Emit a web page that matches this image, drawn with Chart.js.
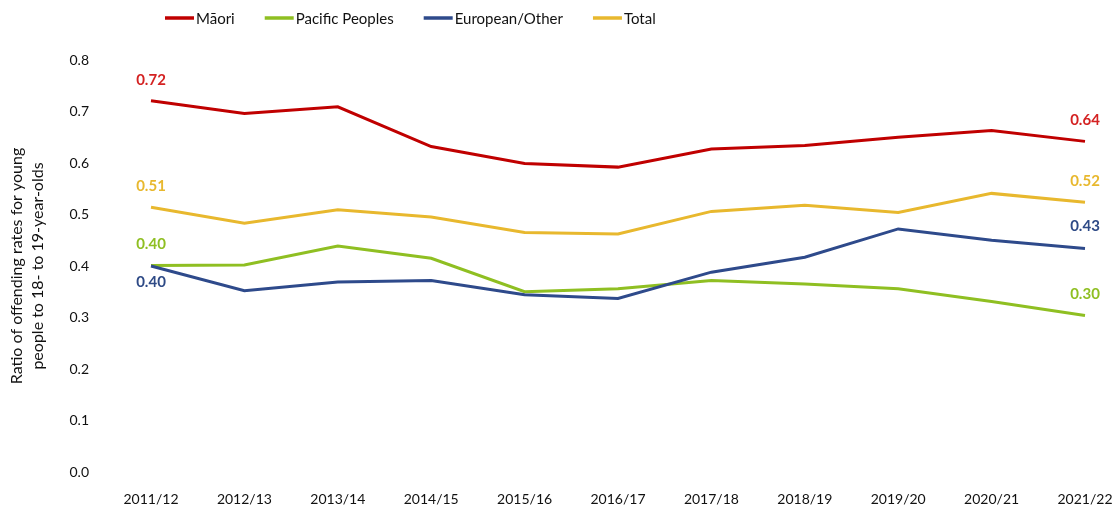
<!DOCTYPE html>
<html>
<head>
<meta charset="utf-8">
<script src="https://cdn.jsdelivr.net/npm/chart.js@4.4.1/dist/chart.umd.min.js"></script>
<style>
  html, body { margin: 0; padding: 0; background: #ffffff; }
  #wrap { width: 1118px; height: 508px; }
</style>
</head>
<body>
<div id="wrap"><canvas id="c" width="1118" height="508"></canvas></div>
<script>
const categories = ['2011/12','2012/13','2013/14','2014/15','2015/16','2016/17','2017/18','2018/19','2019/20','2020/21','2021/22'];
const maori    = [0.721, 0.696, 0.709, 0.632, 0.599, 0.592, 0.627, 0.634, 0.650, 0.663, 0.642];
const pacific  = [0.401, 0.402, 0.439, 0.415, 0.350, 0.356, 0.372, 0.365, 0.356, 0.331, 0.304];
const european = [0.400, 0.352, 0.369, 0.372, 0.344, 0.337, 0.388, 0.417, 0.472, 0.450, 0.434];
const total    = [0.514, 0.483, 0.509, 0.495, 0.465, 0.462, 0.506, 0.518, 0.504, 0.541, 0.524];
const seriesNames = ['Māori', 'Pacific Peoples', 'European/Other', 'Total'];
const yTicks = [0, 0.1, 0.2, 0.3, 0.4, 0.5, 0.6, 0.7, 0.8];
const yTitle = ['Ratio of offending rates for young', 'people to 18- to 19-year-olds'];

const lineColors  = ['#C00000', '#8FBF22', '#2E4A8B', '#E8B82E'];
const labelColors = ['#D42222', '#8FBF22', '#2E4A86', '#E8B82E'];
// end-label placement: [first, last] vertical offsets in px (negative = above)
const labelOffsets = [[-21, -21], [-21, -21], [16, -22], [-21, -21]];

const FONT = 'Lato, "Open Sans", sans-serif';
const TEXT = '#111111';

const endLabels = {
  id: 'endLabels',
  afterDatasetsDraw(chart) {
    const ctx = chart.ctx;
    ctx.save();
    ctx.font = 'bold 15px ' + FONT;
    ctx.textAlign = 'center';
    ctx.textBaseline = 'middle';
    chart.data.datasets.forEach((ds, di) => {
      const meta = chart.getDatasetMeta(di);
      const idxs = [0, ds.data.length - 1];
      idxs.forEach((idx, k) => {
        const pt = meta.data[idx];
        ctx.fillStyle = labelColors[di];
        ctx.fillText(ds.data[idx].toFixed(2), pt.x, pt.y + labelOffsets[di][k]);
      });
    });
    ctx.restore();
  }
};

const customLegend = {
  id: 'customLegend',
  afterDraw(chart) {
    const ctx = chart.ctx;
    ctx.save();
    ctx.font = '15px ' + FONT;
    ctx.textBaseline = 'middle';
    ctx.textAlign = 'left';
    let x = 165;
    const y = 18;
    chart.data.datasets.forEach((ds) => {
      ctx.strokeStyle = ds.borderColor;
      ctx.lineWidth = 3.5;
      ctx.beginPath();
      ctx.moveTo(x, y);
      ctx.lineTo(x + 29, y);
      ctx.stroke();
      ctx.fillStyle = TEXT;
      ctx.fillText(ds.label, x + 31, y + 1);
      x += 31 + ctx.measureText(ds.label).width + 30;
    });
    ctx.restore();
  }
};

const datasets = [maori, pacific, european, total].map((arr, i) => ({
  label: seriesNames[i],
  data: arr,
  borderColor: lineColors[i],
  backgroundColor: lineColors[i],
  borderWidth: 3,
  pointRadius: 0,
  pointHoverRadius: 0,
  tension: 0,
  fill: false,
  order: 4 - i
}));

new Chart(document.getElementById('c'), {
  type: 'line',
  data: { labels: categories, datasets },
  options: {
    responsive: false,
    animation: false,
    devicePixelRatio: 1,
    layout: { padding: { top: 60, right: 33, bottom: 0, left: 0 } },
    plugins: {
      legend: { display: false },
      tooltip: { enabled: false }
    },
    scales: {
      x: {
        type: 'category',
        offset: false,
        grid: { display: true, drawOnChartArea: false, drawTicks: true, tickLength: 19, color: 'rgba(0,0,0,0)' },
        border: { display: false },
        ticks: {
          font: { family: FONT, size: 14 },
          color: TEXT,
          padding: 0,
          maxRotation: 0,
          autoSkip: false
        },
        afterFit(scale) { scale.height = 36; }
      },
      y: {
        min: 0,
        max: 0.8,
        grid: { display: true, drawOnChartArea: false, drawTicks: true, tickLength: 62, color: 'rgba(0,0,0,0)' },
        border: { display: false },
        afterBuildTicks(scale) { scale.ticks = yTicks.map(v => ({ value: v })); },
        ticks: {
          font: { family: FONT, size: 14 },
          color: TEXT,
          padding: 0,
          callback: (v) => Number(v).toFixed(1)
        },
        title: {
          display: true,
          text: yTitle,
          font: { family: FONT, size: 16, lineHeight: 1.28 },
          color: TEXT,
          padding: { top: 7, bottom: 0 }
        },
        afterFit(scale) { scale.width = 151; }
      }
    }
  },
  plugins: [endLabels, customLegend]
});
</script>
</body>
</html>
